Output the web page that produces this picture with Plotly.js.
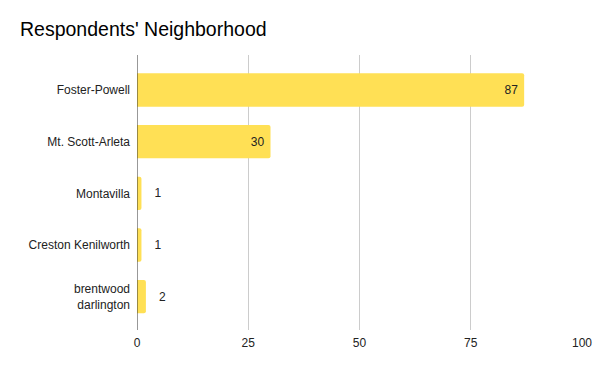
<!DOCTYPE html>
<html>
<head>
<meta charset="utf-8">
<script src="https://cdn.plot.ly/plotly-3.0.1.min.js"></script>
<style>html,body{margin:0;padding:0;background:#fff;}#chart{width:600px;height:371px;}</style>
</head>
<body>
<div id="chart"></div>
<script>
var categories = ["Foster-Powell", "Mt. Scott-Arleta", "Montavilla", "Creston Kenilworth", "brentwood<br>darlington"];
var values = [87, 30, 1, 1, 2];
var tickValues = [0, 25, 50, 75, 100];

var positions = values.map(function (v) { return v >= 10 ? "inside" : "outside"; });
var templates = values.map(function (v) { return v >= 10 ? "%{x}\u00a0" : "\u00a0\u00a0\u00a0%{x}"; });

var trace = {
  type: "bar",
  orientation: "h",
  y: categories,
  x: values,
  marker: { color: "#FFE055", cornerradius: 2 },
  width: 0.645,
  text: values.map(String),
  texttemplate: templates,
  textposition: positions,
  insidetextanchor: "end",
  textangle: 0,
  constraintext: "none",
  textfont: { family: "Liberation Sans, Arial, sans-serif", size: 12, color: "#222222" },
  cliponaxis: false,
  hoverinfo: "none"
};

var layout = {
  width: 600,
  height: 371,
  margin: { l: 137, r: 18, t: 55, b: 41 },
  paper_bgcolor: "#ffffff",
  plot_bgcolor: "#ffffff",
  showlegend: false,
  title: {
    text: "Respondents' Neighborhood",
    x: 20 / 600, xref: "container", xanchor: "left",
    y: 1, yref: "container", yanchor: "top",
    pad: { t: 22 },
    font: { family: "Liberation Sans, Arial, sans-serif", size: 19.5, color: "#000000" }
  },
  xaxis: {
    range: [0, 100],
    tickvals: tickValues,
    ticktext: tickValues.map(String),
    showgrid: true,
    gridcolor: "#cccccc",
    gridwidth: 1,
    zeroline: false,
    showline: false,
    ticks: "",
    ticklabelstandoff: 4,
    tickfont: { family: "Liberation Sans, Arial, sans-serif", size: 12, color: "#222222" }
  },
  yaxis: {
    type: "category",
    range: [4.645, -0.677],
    showgrid: false,
    zeroline: false,
    showline: false,
    ticks: "",
    ticklabelstandoff: 6,
    tickfont: { family: "Liberation Sans, Arial, sans-serif", size: 12, color: "#222222" }
  },
  shapes: [{
    type: "line", xref: "x", yref: "paper",
    x0: 0, x1: 0, y0: 0, y1: 1,
    line: { color: "#333333", width: 1 }
  }]
};

Plotly.newPlot("chart", [trace], layout, { staticPlot: true, displayModeBar: false });
</script>
</body>
</html>
